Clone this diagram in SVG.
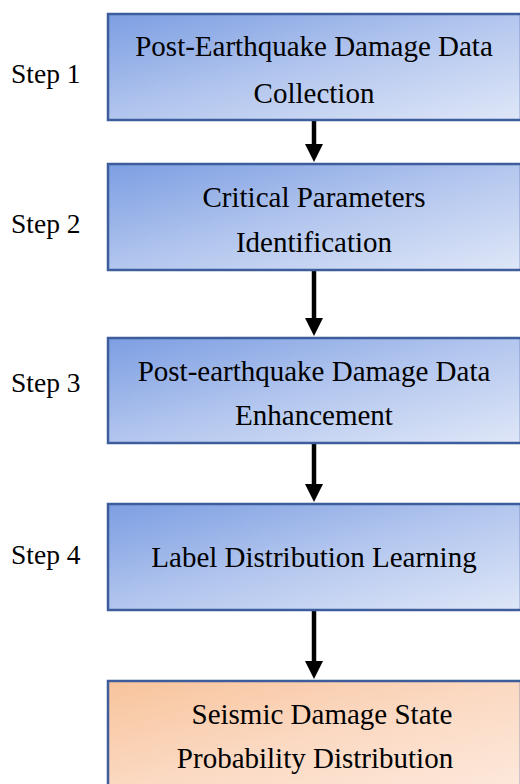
<svg xmlns="http://www.w3.org/2000/svg" width="520" height="784" viewBox="0 0 520 784">
<defs>
<linearGradient id="gb" x1="0" y1="0" x2="1" y2="1">
<stop offset="0" stop-color="#7c9ee2"/>
<stop offset="0.5" stop-color="#b3c6ee"/>
<stop offset="1" stop-color="#dfe7f8"/>
</linearGradient>
<linearGradient id="go" x1="0" y1="0" x2="1" y2="1">
<stop offset="0" stop-color="#f8c49c"/>
<stop offset="0.5" stop-color="#fbd9c2"/>
<stop offset="1" stop-color="#fde9dc"/>
</linearGradient>
</defs>
<style>
.box{stroke:#3d5d9c;stroke-width:2.5}
.bl{fill:url(#gb)}
.or{fill:url(#go)}
.t{font-family:"Liberation Serif","Times New Roman",serif;font-size:29px;fill:#000;text-anchor:middle}
.s{font-family:"Liberation Serif","Times New Roman",serif;font-size:27.5px;fill:#000}
.c{stroke:#000;stroke-width:4.5;fill:none}
</style>
<g id="connectors">
<line class="c" x1="314" y1="121" x2="314" y2="145"/>
<path d="M305,144 L323,144 L314,162 Z" fill="#000"/>
<line class="c" x1="314" y1="271" x2="314" y2="319"/>
<path d="M305,318 L323,318 L314,336 Z" fill="#000"/>
<line class="c" x1="314" y1="444" x2="314" y2="485"/>
<path d="M305,484 L323,484 L314,502 Z" fill="#000"/>
<line class="c" x1="314" y1="611" x2="314" y2="662"/>
<path d="M305,661 L323,661 L314,679 Z" fill="#000"/>
</g>
<g id="step1">
<text class="s" x="11" y="83">Step 1</text>
<rect class="box bl" x="108" y="14" width="413" height="106"/>
<text class="t" x="314" y="56">Post-Earthquake Damage Data</text>
<text class="t" x="314" y="103">Collection</text>
</g>
<g id="step2">
<text class="s" x="11" y="233">Step 2</text>
<rect class="box bl" x="108" y="164" width="413" height="106"/>
<text class="t" x="314" y="207">Critical Parameters</text>
<text class="t" x="314" y="252">Identification</text>
</g>
<g id="step3">
<text class="s" x="11" y="392">Step 3</text>
<rect class="box bl" x="108" y="338" width="413" height="105"/>
<text class="t" x="314" y="381">Post-earthquake Damage Data</text>
<text class="t" x="314" y="425">Enhancement</text>
</g>
<g id="step4">
<text class="s" x="11" y="564">Step 4</text>
<rect class="box bl" x="108" y="504" width="413" height="106"/>
<text class="t" x="314" y="567">Label Distribution Learning</text>
</g>
<g id="result">
<rect class="box or" x="108" y="681" width="413" height="110"/>
<text class="t" x="322" y="724">Seismic Damage State</text>
<text class="t" x="315" y="768">Probability Distribution</text>
</g>
</svg>
